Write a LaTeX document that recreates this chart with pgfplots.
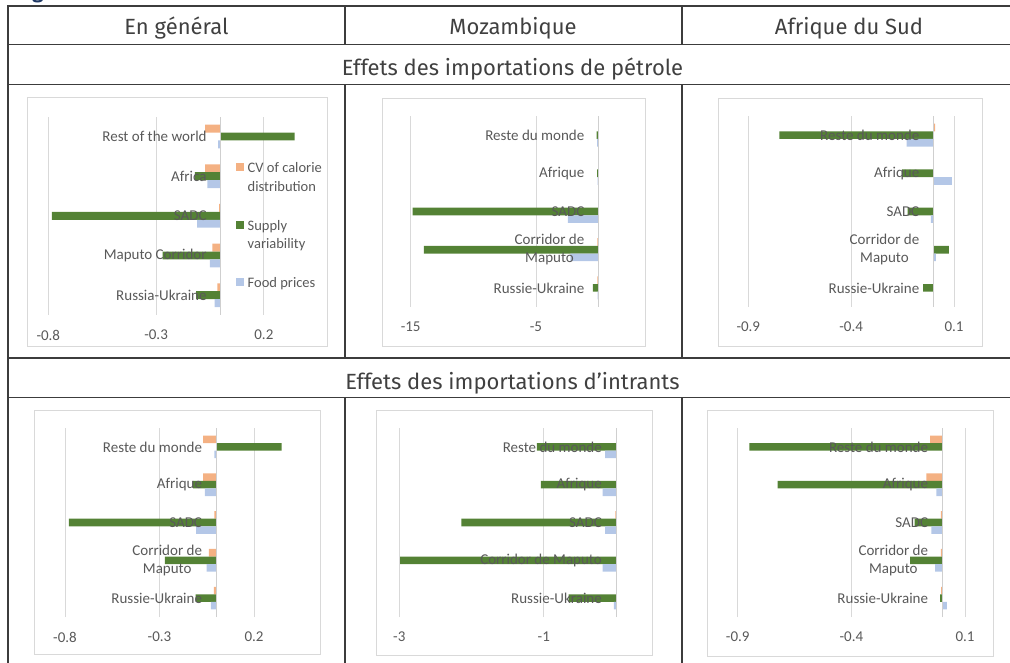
\documentclass[border=0pt]{standalone}
\usepackage{fontspec}
\setmainfont{Carlito}
\newfontfamily\headfont{Fira Sans}
\usepackage{pgfplots}
\pgfplotsset{compat=1.18}
\definecolor{corange}{HTML}{F4B183}
\definecolor{cgreen}{HTML}{548235}
\definecolor{cblue}{HTML}{B4C7E7}
\definecolor{txtgrey}{HTML}{595959}
\definecolor{gridgrey}{HTML}{D9D9D9}
\definecolor{axgrey}{HTML}{CFCFCF}
\definecolor{tablecol}{HTML}{3C3C3C}
\definecolor{headtext}{HTML}{404040}
\definecolor{titleblue}{HTML}{1F3864}
\pgfplotsset{
  panel/.style={
    axis on top,
    scale only axis, anchor=south west,
    bar width=0.2,
    ymin=0.5, ymax=5.5, ytick={1,2,3,4,5},
    axis x line=bottom, axis y line=middle,
    axis line style={-},
    x axis line style={draw=none},
    y axis line style={draw=axgrey, line width=0.8pt},
    major tick length=0pt,
    tick label style={font=\fontsize{15}{18.5}\selectfont, text=txtgrey},
    xticklabel style={anchor=center, yshift=-20pt},
    yticklabel style={anchor=east, inner sep=0pt, xshift=-14pt, align=center},
    clip=false,
  },
  sorange/.style={xbar, fill=corange, draw=none, bar shift=0.2},
  sgreen/.style={xbar, fill=cgreen, draw=none, bar shift=0},
  sblue/.style={xbar, fill=cblue, draw=none, bar shift=-0.2},
}
\newcommand{\vgrid}[1]{\addplot[draw=gridgrey, line width=0.8pt, no marks, forget plot] coordinates {(#1,0.5) (#1,5.5)};}
\begin{document}
\begin{tikzpicture}[x=1pt,y=1pt]
\path[use as bounding box] (0,0) rectangle (1010,662);
% cut title glyph
\node[anchor=base, inner sep=0pt, font=\headfont\fontsize{20}{20}\selectfont\bfseries, text=titleblue] at (38,663) {g};
% table lines
\begin{scope}[draw=tablecol, line width=1.6pt]
\draw (8,656) -- (1012,656);
\draw (8,617.5) -- (1012,617.5);
\draw (8,577.5) -- (1012,577.5);
\draw (8,303.7) -- (1012,303.7);
\draw (8,264.3) -- (1012,264.3);
\draw (8,656.8) -- (8,-2);
\draw (345,656) -- (345,617.5);
\draw (681.7,656) -- (681.7,617.5);
\draw (345,577.5) -- (345,303.7);
\draw (681.7,577.5) -- (681.7,303.7);
\draw (345,264.3) -- (345,-2);
\draw (681.7,264.3) -- (681.7,-2);
\end{scope}
% header texts
\begin{scope}[every node/.style={anchor=base, inner sep=0pt, text=headtext, font=\headfont\fontsize{22}{25}\selectfont}]
\node at (176.5,627) {En général};
\node at (513,627) {Mozambique};
\node at (849,627) {Afrique du Sud};
\node at (512.5,586) {Effets des importations de pétrole};
\node at (512.5,272.5) {Effets des importations d’intrants};
\end{scope}
% chart frames
\begin{scope}[draw=gridgrey, line width=0.9pt]
\draw (27,316) rectangle (327,565);
\draw (382,316) rectangle (645,564);
\draw (718,316) rectangle (982,564);
\draw (34,8) rectangle (320,252);
\draw (376,7) rectangle (652,252);
\draw (707,6) rectangle (993,252);
\end{scope}

% Panel 1
\begin{axis}[panel, at={(48.3pt,347pt)}, width=258.7pt, height=198.3pt,
  xmin=-0.8, xmax=0.4, xtick={-0.8,-0.3,0.2}, xticklabels={-0.8,-0.3,0.2},
  yticklabels={Russia-Ukraine,Maputo Corridor,SADC,Africa,Rest of the world},
  legend style={draw=none, fill=none, at={(0.7256,0.785)}, anchor=north west,
    font=\fontsize{14.5}{18.5}\selectfont, text=txtgrey, row sep=42pt,
    inner sep=0pt, nodes={inner sep=0.5pt},
    /tikz/every odd column/.append style={column sep=3pt}},
  legend cell align=left,
  legend image code/.code={\fill[#1] (0pt,-4pt) rectangle (8pt,4pt);},
]
\vgrid{-0.8}\vgrid{-0.3}\vgrid{0.2}
\addplot[sorange] coordinates {(-0.016,1) (-0.039,2) (-0.008,3) (-0.072,4) (-0.072,5)};
\addplot[sgreen] coordinates {(-0.114,1) (-0.27,2) (-0.783,3) (-0.12,4) (0.343,5)};
\addplot[sblue] coordinates {(-0.028,1) (-0.051,2) (-0.11,3) (-0.062,4) (-0.012,5)};
\addlegendentry{\begin{tabular}[t]{@{}l@{}}CV of calorie\\distribution\end{tabular}}
\addlegendentry{\begin{tabular}[t]{@{}l@{}}Supply\\variability\end{tabular}}
\addlegendentry{\begin{tabular}[t]{@{}l@{}}Food prices\end{tabular}}
\end{axis}

% Panel 2
\begin{axis}[panel, at={(410.7pt,355pt)}, width=187.8pt, height=191pt,
  xmin=-15, xmax=0, xtick={-15,-5}, xticklabels={-15,-5},
  yticklabels={Russie-Ukraine,{Corridor de\\Maputo},SADC,Afrique,Reste du monde},
]
\vgrid{-15}\vgrid{-5}
\addplot[sorange] coordinates {(-0.1,1) (-0.1,2) (-0.02,3) (-0.02,4) (-0.02,5)};
\addplot[sgreen] coordinates {(-0.45,1) (-13.95,2) (-14.85,3) (-0.12,4) (-0.15,5)};
\addplot[sblue] coordinates {(-0.08,1) (-2.25,2) (-2.45,3) (-0.08,4) (-0.12,5)};
\end{axis}

% Panel 3
\begin{axis}[panel, at={(748.3pt,355pt)}, width=205.7pt, height=191pt,
  xmin=-0.9, xmax=0.1, xtick={-0.9,-0.4,0.1}, xticklabels={-0.9,-0.4,0.1},
  yticklabels={Russie-Ukraine,{Corridor de\\Maputo},SADC,Afrique,Reste du monde},
]
\vgrid{-0.9}\vgrid{-0.4}\vgrid{0.1}
\addplot[sorange] coordinates {(0.002,1) (0.002,2) (0.002,3) (0.002,4) (0.008,5)};
\addplot[sgreen] coordinates {(-0.05,1) (0.075,2) (-0.125,3) (-0.154,4) (-0.749,5)};
\addplot[sblue] coordinates {(0.002,1) (0.012,2) (-0.013,3) (0.09,4) (-0.13,5)};
\end{axis}

% Panel 4
\begin{axis}[panel, at={(65pt,45pt)}, width=226.8pt, height=189pt,
  xmin=-0.8, xmax=0.4, xtick={-0.8,-0.3,0.2}, xticklabels={-0.8,-0.3,0.2},
  yticklabels={Russie-Ukraine,{Corridor de\\Maputo},SADC,Afrique,Reste du monde},
]
\vgrid{-0.8}\vgrid{-0.3}\vgrid{0.2}
\addplot[sorange] coordinates {(-0.012,1) (-0.039,2) (-0.009,3) (-0.069,4) (-0.069,5)};
\addplot[sgreen] coordinates {(-0.109,1) (-0.272,2) (-0.78,3) (-0.122,4) (0.346,5)};
\addplot[sblue] coordinates {(-0.028,1) (-0.051,2) (-0.106,3) (-0.06,4) (-0.009,5)};
\end{axis}

% Panel 5
\begin{axis}[panel, at={(399.3pt,45pt)}, width=216.7pt, height=189pt,
  xmin=-3, xmax=0, xtick={-3,-1}, xticklabels={-3,-1},
  yticklabels={Russie-Ukraine,Corridor de Maputo,SADC,Afrique,Reste du monde},
]
\vgrid{-3}\vgrid{-1}
\addplot[sorange] coordinates {(0.01,1) (0,2) (-0.01,3) (0,4) (0,5)};
\addplot[sgreen] coordinates {(-0.657,1) (-2.99,2) (-2.14,3) (-1.04,4) (-1.094,5)};
\addplot[sblue] coordinates {(-0.028,1) (-0.184,2) (-0.152,3) (-0.184,4) (-0.152,5)};
\end{axis}

% Panel 6
\begin{axis}[panel, at={(737.7pt,45pt)}, width=227.3pt, height=189pt,
  xmin=-0.9, xmax=0.1, xtick={-0.9,-0.4,0.1}, xticklabels={-0.9,-0.4,0.1},
  yticklabels={Russie-Ukraine,{Corridor de\\Maputo},SADC,Afrique,Reste du monde},
]
\vgrid{-0.9}\vgrid{-0.4}\vgrid{0.1}
\addplot[sorange] coordinates {(-0.005,1) (-0.006,2) (-0.006,3) (-0.07,4) (-0.053,5)};
\addplot[sgreen] coordinates {(-0.01,1) (-0.141,2) (-0.122,3) (-0.724,4) (-0.849,5)};
\addplot[sblue] coordinates {(0.02,1) (-0.031,2) (-0.048,3) (-0.026,4) (0,5)};
\end{axis}
\end{tikzpicture}
\end{document}
